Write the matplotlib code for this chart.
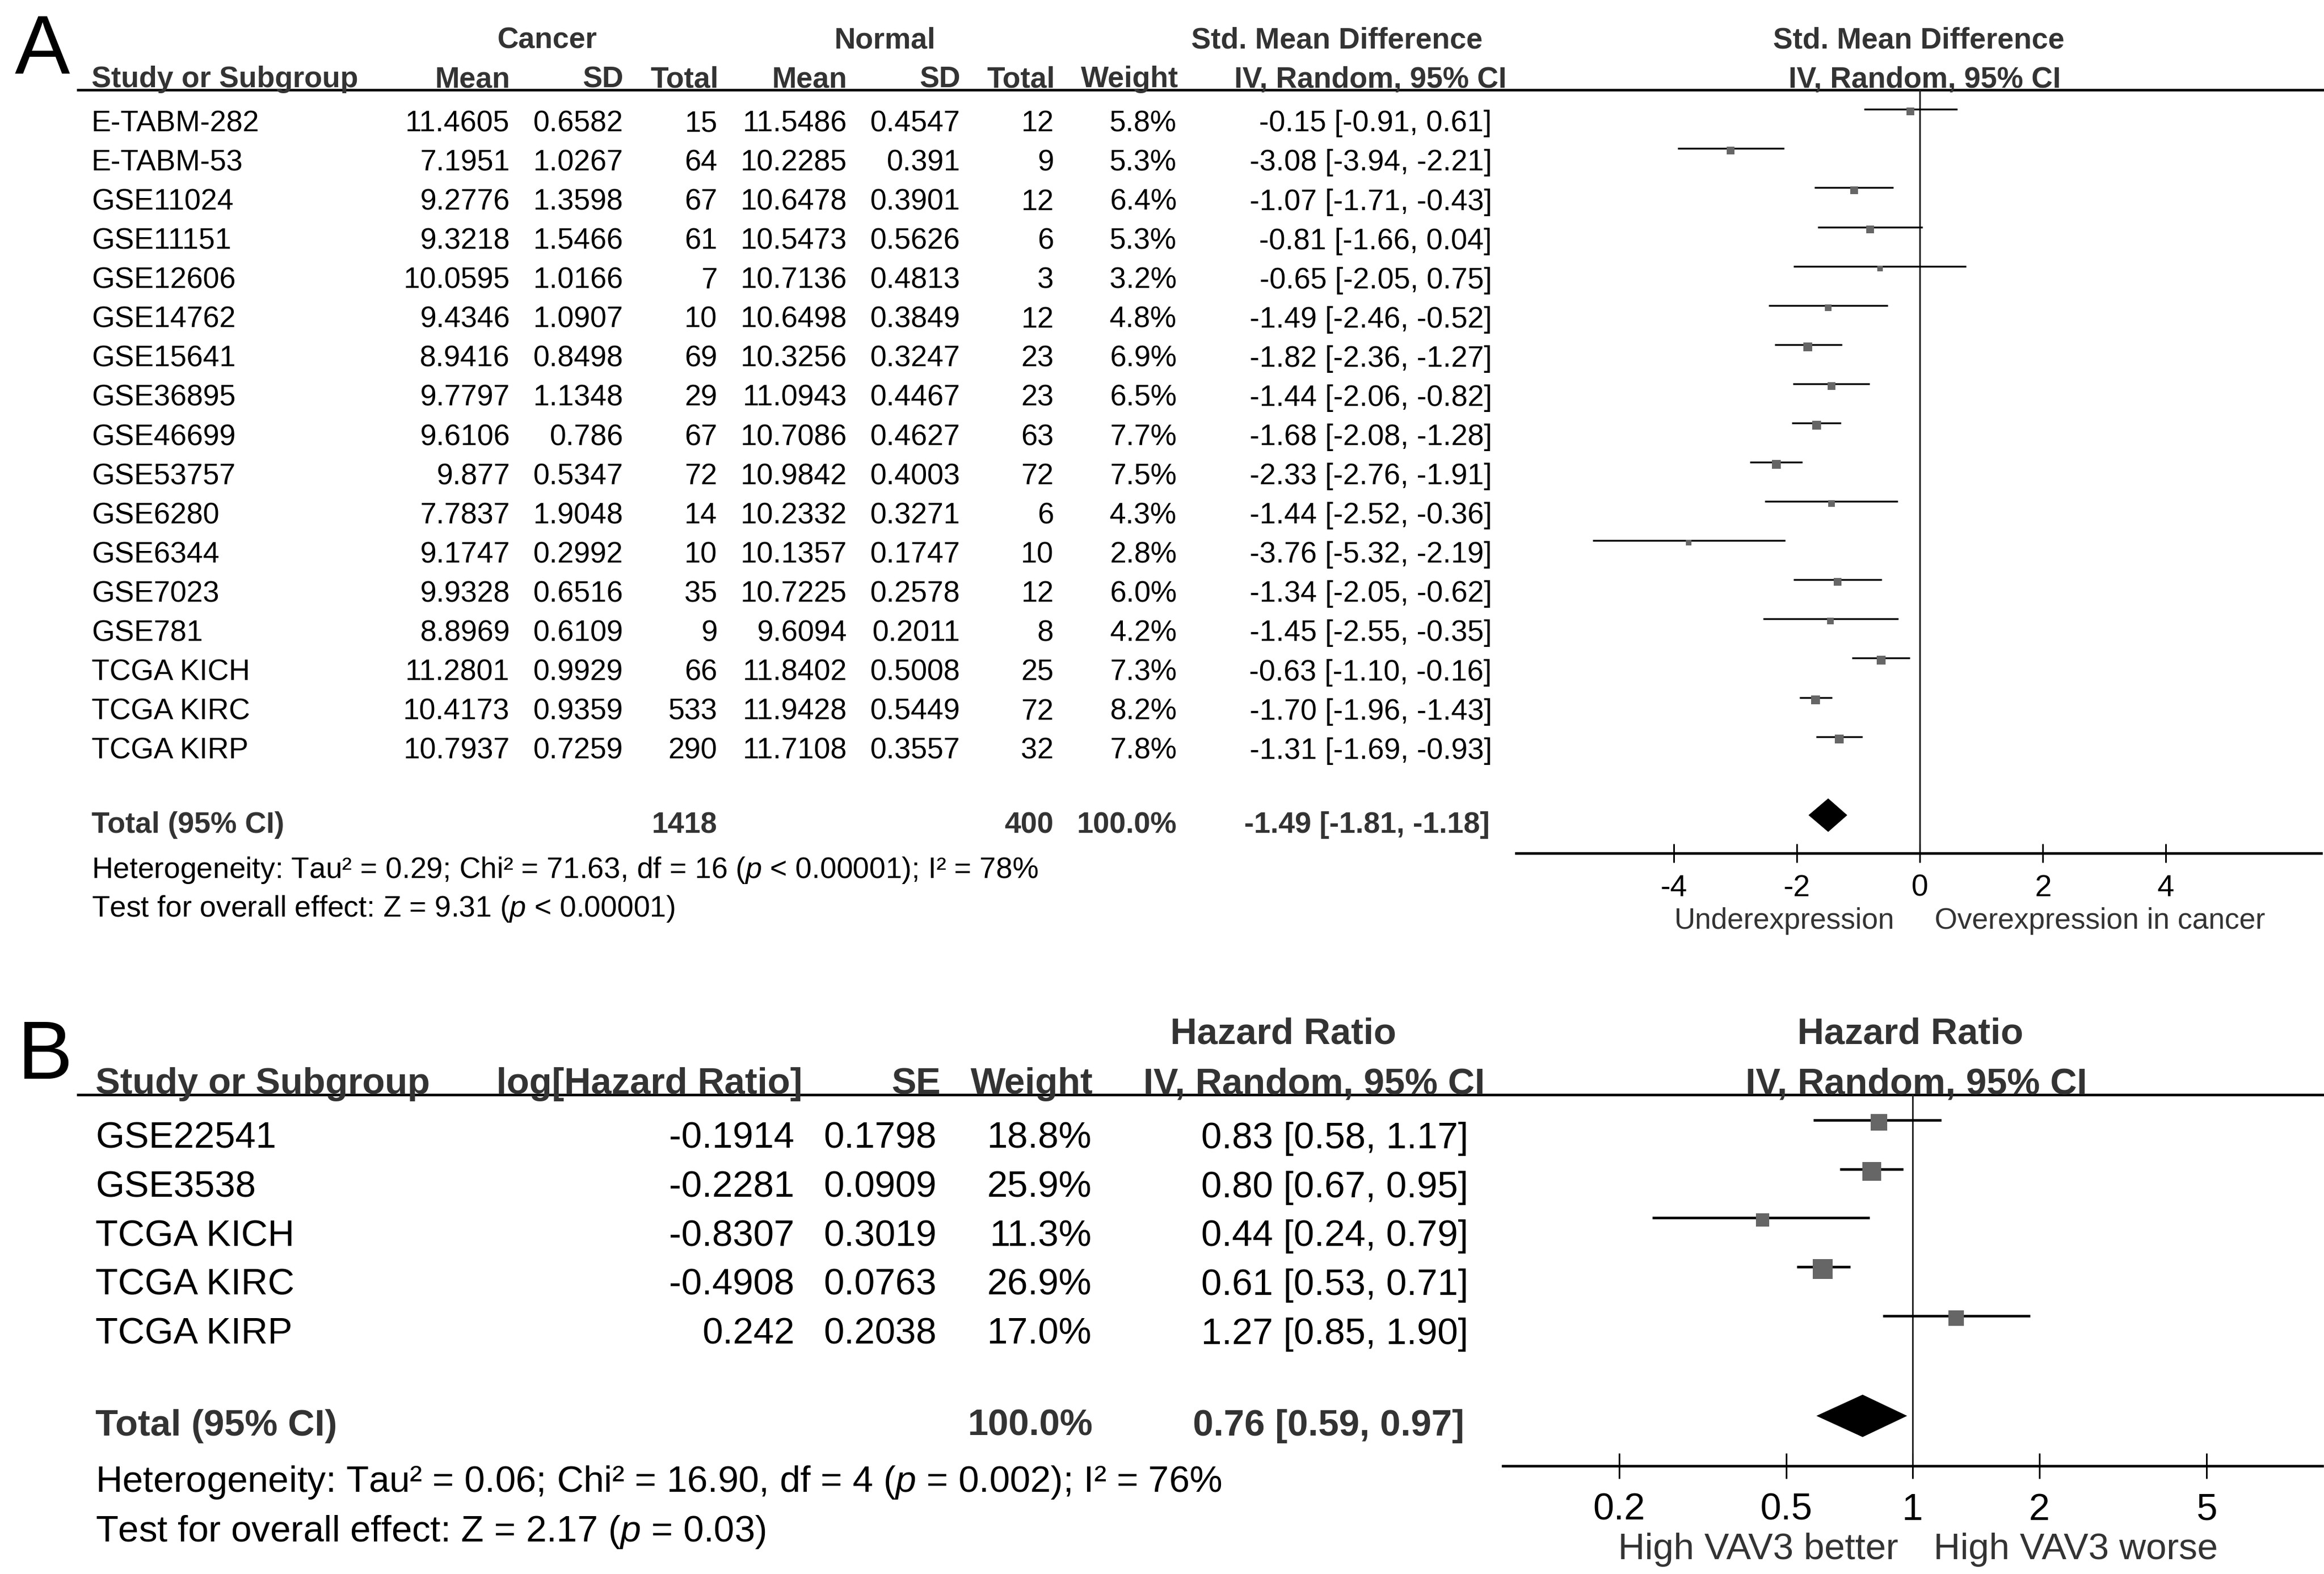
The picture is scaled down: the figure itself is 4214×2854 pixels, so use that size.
import numpy as np
import matplotlib
matplotlib.use('Agg')
import matplotlib.pyplot as plt

plt.rcParams['font.family'] = ['Liberation Sans', 'DejaVu Sans']
plt.rcParams['mathtext.fontset'] = 'custom'
plt.rcParams['mathtext.rm'] = 'Liberation Sans'
plt.rcParams['mathtext.it'] = 'Liberation Sans:italic'
plt.rcParams['axes.unicode_minus'] = False

# ---- Panel A data: VAV3 expression, cancer vs normal ----
studies_a = ['E-TABM-282', 'E-TABM-53', 'GSE11024', 'GSE11151', 'GSE12606', 'GSE14762',
             'GSE15641', 'GSE36895', 'GSE46699', 'GSE53757', 'GSE6280', 'GSE6344',
             'GSE7023', 'GSE781', 'TCGA KICH', 'TCGA KIRC', 'TCGA KIRP']
cancer_mean = [11.4605, 7.1951, 9.2776, 9.3218, 10.0595, 9.4346, 8.9416, 9.7797, 9.6106,
               9.877, 7.7837, 9.1747, 9.9328, 8.8969, 11.2801, 10.4173, 10.7937]
cancer_sd = [0.6582, 1.0267, 1.3598, 1.5466, 1.0166, 1.0907, 0.8498, 1.1348, 0.786,
             0.5347, 1.9048, 0.2992, 0.6516, 0.6109, 0.9929, 0.9359, 0.7259]
cancer_n = [15, 64, 67, 61, 7, 10, 69, 29, 67, 72, 14, 10, 35, 9, 66, 533, 290]
normal_mean = [11.5486, 10.2285, 10.6478, 10.5473, 10.7136, 10.6498, 10.3256, 11.0943, 10.7086,
               10.9842, 10.2332, 10.1357, 10.7225, 9.6094, 11.8402, 11.9428, 11.7108]
normal_sd = [0.4547, 0.391, 0.3901, 0.5626, 0.4813, 0.3849, 0.3247, 0.4467, 0.4627,
             0.4003, 0.3271, 0.1747, 0.2578, 0.2011, 0.5008, 0.5449, 0.3557]
normal_n = [12, 9, 12, 6, 3, 12, 23, 23, 63, 72, 6, 10, 12, 8, 25, 72, 32]
weight_a = [5.8, 5.3, 6.4, 5.3, 3.2, 4.8, 6.9, 6.5, 7.7, 7.5, 4.3, 2.8, 6.0, 4.2, 7.3, 8.2, 7.8]
smd = [-0.15, -3.08, -1.07, -0.81, -0.65, -1.49, -1.82, -1.44, -1.68, -2.33, -1.44, -3.76,
       -1.34, -1.45, -0.63, -1.70, -1.31]
smd_lo = [-0.91, -3.94, -1.71, -1.66, -2.05, -2.46, -2.36, -2.06, -2.08, -2.76, -2.52, -5.32,
          -2.05, -2.55, -1.10, -1.96, -1.69]
smd_hi = [0.61, -2.21, -0.43, 0.04, 0.75, -0.52, -1.27, -0.82, -1.28, -1.91, -0.36, -2.19,
          -0.62, -0.35, -0.16, -1.43, -0.93]
total_a = [-1.49, -1.81, -1.18]
total_n_a = [1418, 400]
ticks_a = [-4, -2, 0, 2, 4]
het_a = 'Heterogeneity: Tau² = 0.29; Chi² = 71.63, df = 16 ($\\mathit{p}$ < 0.00001); I² = 78%'
test_a = 'Test for overall effect: Z = 9.31 ($\\mathit{p}$ < 0.00001)'

# ---- Panel B data: survival, hazard ratios ----
studies_b = ['GSE22541', 'GSE3538', 'TCGA KICH', 'TCGA KIRC', 'TCGA KIRP']
log_hr = [-0.1914, -0.2281, -0.8307, -0.4908, 0.242]
se_b = [0.1798, 0.0909, 0.3019, 0.0763, 0.2038]
weight_b = [18.8, 25.9, 11.3, 26.9, 17.0]
hr = [0.83, 0.80, 0.44, 0.61, 1.27]
hr_lo = [0.58, 0.67, 0.24, 0.53, 0.85]
hr_hi = [1.17, 0.95, 0.79, 0.71, 1.90]
total_b = [0.76, 0.59, 0.97]
ticks_b = [0.2, 0.5, 1, 2, 5]
het_b = 'Heterogeneity: Tau² = 0.06; Chi² = 16.90, df = 4 ($\\mathit{p}$ = 0.002); I² = 76%'
test_b = 'Test for overall effect: Z = 2.17 ($\\mathit{p}$ = 0.03)'

# layout in reference units (1568 x 1062)
W, H = 1568, 1062
HDR = '#333333'
FS_A, FS_B = 12.8, 16.1


def box(x0, y0, x1, y1):
    return [x0 / W, 1 - y1 / H, (x1 - x0) / W, (y1 - y0) / H]


def txt(x, y, s, ha='left', size=FS_A, bold=False, color='black'):
    ax0.text(x, y, s, ha=ha, va='baseline', fontsize=size,
             fontweight='bold' if bold else 'normal', color=color)


def ci_text(m, lo, hi):
    return f'{m:.2f} [{lo:.2f}, {hi:.2f}]'


fig = plt.figure(figsize=(4214 / 300, 2854 / 300), dpi=300)
ax0 = fig.add_axes([0, 0, 1, 1])
ax0.set_xlim(0, W)
ax0.set_ylim(H, 0)
ax0.axis('off')

# ================= Panel A =================
txt(10, 49.6, 'A', size=36)
txt(369.3, 32.5, 'Cancer', ha='center', bold=True, color=HDR)
txt(597, 32.5, 'Normal', ha='center', bold=True, color=HDR)
txt(902, 32.5, 'Std. Mean Difference', ha='center', bold=True, color=HDR)
txt(1294.6, 32.5, 'Std. Mean Difference', ha='center', bold=True, color=HDR)
txt(61.8, 58.9, 'Study or Subgroup', bold=True, color=HDR)
cols_a = [344, 420.6, 484.7, 571.5, 648, 712, 795]
for x, s in zip(cols_a, ['Mean', 'SD', 'Total', 'Mean', 'SD', 'Total', 'Weight']):
    txt(x, 58.9, s, ha='right', bold=True, color=HDR)
txt(1016.6, 58.9, 'IV, Random, 95% CI', ha='right', bold=True, color=HDR)
txt(1298.6, 58.9, 'IV, Random, 95% CI', ha='center', bold=True, color=HDR)
ax0.plot([51.9, W], [60.6, 60.6], color='black', lw=1.1, solid_capstyle='butt')

line_a = [73.8 + 26.45 * i for i in range(len(studies_a))]
for i, name in enumerate(studies_a):
    yb = line_a[i] + 14.9
    txt(61.8, yb, name)
    vals = [str(cancer_mean[i]), str(cancer_sd[i]), str(cancer_n[i]),
            str(normal_mean[i]), str(normal_sd[i]), str(normal_n[i]), f'{weight_a[i]:.1f}%']
    for x, s in zip([344, 420.6, 484, 571.5, 648, 711, 794], vals):
        txt(x, yb, s, ha='right')
    txt(1006.6, yb, ci_text(smd[i], smd_lo[i], smd_hi[i]), ha='right')

txt(61.8, 561.9, 'Total (95% CI)', bold=True, color=HDR)
txt(484, 561.9, str(total_n_a[0]), ha='right', bold=True, color=HDR)
txt(711, 561.9, str(total_n_a[1]), ha='right', bold=True, color=HDR)
txt(794, 561.9, '100.0%', ha='right', bold=True, color=HDR)
txt(1005, 561.9, ci_text(*total_a), ha='right', bold=True, color=HDR)
txt(61.8, 592.5, het_a)
txt(61.8, 618.5, test_a)

axA = fig.add_axes(box(1023, 60.6, 1566, 575.8))
axA.set_facecolor('none')
axA.set_xlim(-6.56, 6.52)
axA.set_ylim(575.8, 60.6)
axA.axvline(0, color='#222222', lw=0.7)
for i in range(len(studies_a)):
    axA.plot([smd_lo[i], smd_hi[i]], [line_a[i], line_a[i]], color='black', lw=0.8,
             solid_capstyle='butt')
    axA.plot(smd[i], line_a[i] + 1.5, marker='s', ms=1.4 * np.sqrt(weight_a[i]),
             color='#666666', mec='none', ls='none')
yd, hd = 550, 11.3
axA.fill([total_a[1], total_a[0], total_a[2], total_a[0]], [yd, yd - hd, yd, yd + hd],
         color='black', lw=0)
for s in ['top', 'left', 'right']:
    axA.spines[s].set_visible(False)
axA.spines['bottom'].set_linewidth(1.1)
axA.set_yticks([])
axA.set_xticks(ticks_a)
axA.set_xticklabels([str(t) for t in ticks_a])
axA.tick_params(axis='x', direction='inout', length=8.3, width=0.7, pad=4.8, labelsize=13.2)
txt(1203.9, 626.8, 'Underexpression', ha='center', size=12.7, color=HDR)
txt(1417, 626.8, 'Overexpression in cancer', ha='center', size=12.7, color=HDR)

# ================= Panel B =================
txt(12, 728, 'B', size=36)
txt(865.7, 704.4, 'Hazard Ratio', ha='center', size=FS_B, bold=True, color=HDR)
txt(1289, 704.4, 'Hazard Ratio', ha='center', size=FS_B, bold=True, color=HDR)
txt(64.5, 738, 'Study or Subgroup', size=FS_B, bold=True, color=HDR)
for x, s in zip([541.5, 634.5, 737.6], ['log[Hazard Ratio]', 'SE', 'Weight']):
    txt(x, 738, s, ha='right', size=FS_B, bold=True, color=HDR)
txt(1002, 738, 'IV, Random, 95% CI', ha='right', size=FS_B, bold=True, color=HDR)
txt(1293, 738, 'IV, Random, 95% CI', ha='center', size=FS_B, bold=True, color=HDR)
ax0.plot([51.9, W], [738.6, 738.6], color='black', lw=1.1, solid_capstyle='butt')

line_b = [755.7 + 33.0 * i for i in range(len(studies_b))]
for i, name in enumerate(studies_b):
    yb = line_b[i] + 19
    txt(64.5, yb, name, size=FS_B)
    txt(536, yb, str(log_hr[i]), ha='right', size=FS_B)
    txt(632, yb, str(se_b[i]), ha='right', size=FS_B)
    txt(736.6, yb, f'{weight_b[i]:.1f}%', ha='right', size=FS_B)
    txt(990.5, yb, ci_text(hr[i], hr_lo[i], hr_hi[i]), ha='right', size=FS_B)

txt(64.5, 968.6, 'Total (95% CI)', size=FS_B, bold=True, color=HDR)
txt(737.6, 968.6, '100.0%', ha='right', size=FS_B, bold=True, color=HDR)
txt(988, 968.6, ci_text(*total_b), ha='right', size=FS_B, bold=True, color=HDR)
txt(64.5, 1006.5, het_b, size=FS_B)
txt(64.5, 1040, test_b, size=FS_B)

axB = fig.add_axes(box(1014, 738.6, 1567, 989))
axB.set_facecolor('none')
axB.set_xscale('log')
axB.set_xlim(10 ** -0.975, 10 ** 0.975)
axB.set_ylim(989, 738.6)
axB.axvline(1, color='#222222', lw=0.7)
for i in range(len(studies_b)):
    axB.plot([hr_lo[i], hr_hi[i]], [line_b[i], line_b[i]], color='black', lw=1.1,
             solid_capstyle='butt')
    axB.plot(hr[i], line_b[i] + 1.5, marker='s', ms=1.65 * np.sqrt(weight_b[i]),
             color='#666666', mec='none', ls='none')
yd, hd = 955.3, 14.3
axB.fill([total_b[1], total_b[0], total_b[2], total_b[0]], [yd, yd - hd, yd, yd + hd],
         color='black', lw=0)
for s in ['top', 'left', 'right']:
    axB.spines[s].set_visible(False)
axB.spines['bottom'].set_linewidth(1.1)
axB.set_yticks([])
axB.minorticks_off()
axB.set_xticks(ticks_b)
axB.set_xticklabels([f'{t:g}' for t in ticks_b])
axB.tick_params(axis='x', direction='inout', length=11, width=0.7, pad=6, labelsize=16.4)
txt(1186.4, 1052, 'High VAV3 better', ha='center', size=FS_B, color=HDR)
txt(1400.5, 1052, 'High VAV3 worse', ha='center', size=FS_B, color=HDR)

plt.savefig('out.png', dpi=300)
